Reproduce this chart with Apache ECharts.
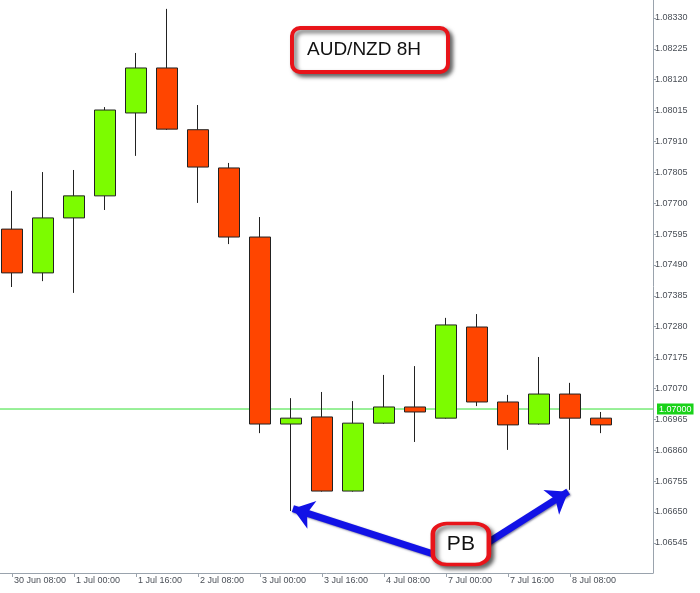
<!DOCTYPE html>
<html>
<head>
<meta charset="utf-8">
<script src="https://cdn.jsdelivr.net/npm/echarts@6/dist/echarts.min.js"></script>
<style>html,body{margin:0;padding:0;background:#fff;}#c{width:700px;height:593px;}</style>
</head>
<body>
<div id="c"></div>
<script>
// Categories (8H bars)
var categories = ['30 Jun 08:00','30 Jun 16:00','1 Jul 00:00','1 Jul 08:00','1 Jul 16:00','2 Jul 00:00','2 Jul 08:00','2 Jul 16:00','3 Jul 00:00','3 Jul 08:00','3 Jul 16:00','4 Jul 00:00','4 Jul 08:00','4 Jul 16:00','7 Jul 00:00','7 Jul 08:00','7 Jul 16:00','8 Jul 00:00','8 Jul 08:00','8 Jul 16:00'];
var opens  = [1.07612,1.07463,1.07650,1.07725,1.08007,1.08160,1.07950,1.07820,1.07585,1.06949,1.06973,1.06721,1.06952,1.07007,1.06969,1.07279,1.07024,1.06949,1.07051,1.06969];
var closes = [1.07463,1.07650,1.07725,1.08017,1.08160,1.07952,1.07823,1.07585,1.06949,1.06969,1.06721,1.06952,1.07007,1.06990,1.07286,1.07024,1.06946,1.07051,1.06969,1.06946];
var lows   = [1.07415,1.07435,1.07395,1.07677,1.07861,1.07949,1.07701,1.07561,1.06918,1.06653,1.06719,1.06719,1.06949,1.06888,1.06967,1.07010,1.06861,1.06947,1.06725,1.06918];
var highs  = [1.07742,1.07806,1.07813,1.08027,1.08211,1.08361,1.08034,1.07837,1.07653,1.07037,1.07058,1.07027,1.07116,1.07146,1.07310,1.07323,1.07048,1.07177,1.07089,1.06990];
var priceTicks = [];
for (var k = 0; k < 18; k++) priceTicks.push((106545 + 105 * k) / 100000);
var timeTickIdx = [0,2,4,6,8,10,12,14,16,18];
var currentPrice = 1.07000;
var pbBarsIdx = [9, 18];

var candleData = categories.map(function (c, i) { return [i, opens[i], closes[i], lows[i], highs[i]]; });

var xMin = -12 / 31, xMax = 641 / 31;
var chart = echarts.init(document.getElementById('c'));
var axisGray = '#9aa3ad';
var labelGray = '#4a4f57';
chart.setOption({
  animation: false,
  backgroundColor: '#ffffff',
  title: {
    text: 'AUD/NZD 8H',
    left: 292, top: 28,
    padding: [12, 27, 13, 15],
    backgroundColor: '#ffffff',
    borderColor: '#e8141a',
    borderWidth: 4,
    borderRadius: 8,
    shadowColor: 'rgba(0,0,0,0.55)',
    shadowBlur: 4, shadowOffsetX: 3, shadowOffsetY: 3,
    textStyle: { fontFamily: 'Liberation Sans', fontSize: 19, fontWeight: 'normal', color: '#111' }
  },
  grid: { left: 0, right: 47, top: 0, bottom: 20 },
  xAxis: {
    type: 'value',
    min: xMin, max: xMax,
    splitLine: { show: false },
    axisLine: { show: true, onZero: false, lineStyle: { color: axisGray, width: 1 } },
    axisTick: { show: true, length: 4, customValues: timeTickIdx, lineStyle: { color: axisGray } },
    axisLabel: {
      customValues: timeTickIdx,
      align: 'left', margin: 3,
      padding: [0, 0, 0, 2],
      fontFamily: 'Liberation Sans', fontSize: 9, color: labelGray,
      formatter: function (v) { return categories[Math.round(v)] || ''; }
    }
  },
  yAxis: {
    type: 'value',
    position: 'right',
    min: 1.064423, max: 1.083912,
    scale: true,
    splitLine: { show: false },
    axisLine: { show: true, onZero: false, lineStyle: { color: axisGray, width: 1 } },
    axisTick: { show: true, length: 3, customValues: priceTicks, lineStyle: { color: axisGray } },
    axisLabel: {
      customValues: priceTicks,
      margin: 2,
      fontFamily: 'Liberation Sans', fontSize: 9, color: labelGray,
      formatter: function (v) { return v.toFixed(5); }
    }
  },
  series: [
    {
      type: 'line', z: 1, silent: true,
      data: [[xMin, currentPrice], [xMax, currentPrice]],
      symbol: 'none',
      lineStyle: { color: '#33e033', width: 1 },
      itemStyle: { color: '#33e033' },
      endLabel: {
        show: true, distance: 4,
        formatter: function () { return currentPrice.toFixed(5); },
        backgroundColor: '#19d219', color: '#ffffff',
        fontFamily: 'Liberation Sans', fontSize: 9, padding: [1, 2, 1, 2]
      }
    },
    {
      type: 'candlestick',
      data: candleData,
      encode: { x: 0, y: [1, 2, 3, 4] },
      barWidth: 21,
      z: 3,
      itemStyle: {
        color: '#7cfc00', color0: '#ff4500',
        borderColor: '#222222', borderColor0: '#222222', borderWidth: 1
      }
    },
    {
      type: 'line', data: [], z: 5,
      markLine: {
        silent: true,
        symbol: ['none', 'arrow'],
        symbolSize: [22, 20],
        lineStyle: { color: '#1212e6', width: 7, type: 'solid', shadowColor: 'rgba(0,0,60,0.5)', shadowBlur: 2, shadowOffsetX: 1, shadowOffsetY: 1 },
        label: { show: false },
        data: [
          [{ coord: [14.29, 1.06483] }, { coord: [pbBarsIdx[0] + 0.06, lows[pbBarsIdx[0]] + 0.00008] }],
          [{ coord: [14.77, 1.06507] }, { coord: [pbBarsIdx[1] - 0.06, lows[pbBarsIdx[1]] - 0.00006] }]
        ]
      }
    },
    {
      type: 'line', data: [], z: 8,
      markPoint: {
        silent: true,
        symbol: 'roundRect',
        symbolSize: [56, 41],
        itemStyle: {
          color: '#ffffff', borderColor: '#e8141a', borderWidth: 4,
          shadowColor: 'rgba(0,0,0,0.55)', shadowBlur: 4, shadowOffsetX: 3, shadowOffsetY: 3
        },
        label: { show: true, position: 'inside', formatter: 'PB', fontFamily: 'Liberation Sans', fontSize: 21, color: '#111' },
        data: [{ coord: [14.48, 1.06541] }]
      }
    }
  ]
});
</script>
</body>
</html>
